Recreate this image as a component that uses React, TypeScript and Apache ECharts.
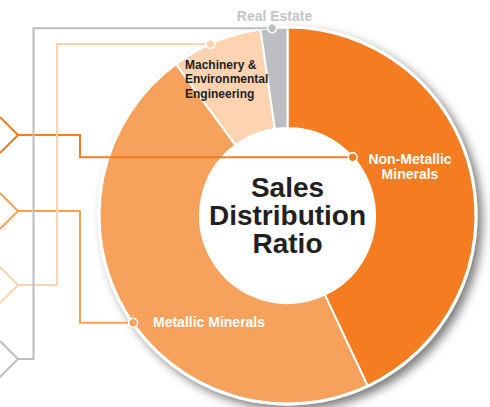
import React, { useEffect, useRef } from "react";
import * as echarts from "echarts";

// ---- data ----
const categories = ["Non-Metallic Minerals", "Metallic Minerals", "Machinery & Environmental Engineering", "Real Estate"];
const shares = [43.0, 46.9, 7.8, 2.3];
const labelTexts = ["Non-Metallic\nMinerals", "Metallic Minerals", "Machinery &\nEnvironmental\nEngineering", "Real Estate"];
const colors = ["#f47d22", "#f6a15c", "#fdd3b1", "#bdbec1"];
const centerTitle = "Sales\nDistribution\nRatio";

// ---- layout ----
const W = 490;
const H = 407;
const CX = 287.5;
const CY = 215.5;
const R_IN = 87.5;
const R_OUT = 188;
const FONT = "'Liberation Sans', Arial, Helvetica, sans-serif";

// marker angle (deg clockwise from 12 o'clock) and radius per category
const markerAngle = [48.2, 235.2, 335.8, 355.3];
const markerRadius = [R_IN, R_OUT, R_OUT, R_OUT];
const routeX = [80, 80, 57, 33.5];
const tipY = [135, 211, 285, 359];
const TIP_X = 18;

function markerPoint(i: number): [number, number] {
  const a = (markerAngle[i] * Math.PI) / 180;
  return [CX + markerRadius[i] * Math.sin(a), CY - markerRadius[i] * Math.cos(a)];
}

export default function App() {
  const ref = useRef<HTMLDivElement>(null);
  useEffect(() => {
    document.body.style.margin = "0";
    if (!ref.current) return;
    const chart = echarts.init(ref.current, undefined, { renderer: "svg" });

    const graphics: any[] = [];
    categories.forEach((_, i) => {
      const [mx, my] = markerPoint(i);
      graphics.push({
        type: "polyline",
        z: 100,
        shape: { points: [[mx, my], [routeX[i], my], [routeX[i], tipY[i]], [TIP_X, tipY[i]]] },
        style: { stroke: colors[i], lineWidth: 2, fill: null },
      });
      graphics.push({
        type: "polyline",
        z: 100,
        shape: { points: [[0, tipY[i] - 18], [TIP_X, tipY[i]], [0, tipY[i] + 18]] },
        style: { stroke: colors[i], lineWidth: 2, fill: null },
      });
      graphics.push({
        type: "circle",
        z: 101,
        shape: { cx: mx, cy: my, r: 4.5 },
        style: { fill: colors[i], stroke: "#ffffff", lineWidth: 1.5 },
      });
    });
    graphics.push({
      type: "text",
      z: 102,
      x: CX,
      y: CY,
      style: {
        text: centerTitle,
        fill: "#231f20",
        font: `bold 28px ${FONT}`,
        lineHeight: 28,
        align: "center",
        verticalAlign: "middle",
      },
    });

    const labelPos: any[] = [
      { x: 410, y: 166, align: "center", verticalAlign: "middle" },
      { x: 153, y: 322, align: "left", verticalAlign: "middle" },
      { x: 185, y: 79, align: "left", verticalAlign: "middle" },
      { x: 274.5, y: 16, align: "center", verticalAlign: "middle" },
    ];
    const labelStyles: any[] = [
      { color: "#ffffff", fontSize: 14, lineHeight: 15 },
      { color: "#ffffff", fontSize: 14, lineHeight: 15 },
      { color: "#231f20", fontSize: 12, lineHeight: 14.5 },
      { color: "#c4c5c7", fontSize: 14, lineHeight: 15 },
    ];

    chart.setOption({
      animation: false,
      graphic: { elements: graphics },
      series: [
        {
          type: "pie",
          silent: true,
          z: 1,
          center: [CX, CY],
          radius: [0, R_OUT + 2],
          label: { show: false },
          labelLine: { show: false },
          data: [{ value: 1, itemStyle: { color: "#ffffff" } }],
          itemStyle: {
            shadowBlur: 10,
            shadowColor: "rgba(0,0,0,0.5)",
            shadowOffsetX: 5,
            shadowOffsetY: 5,
          },
        },
        {
          type: "pie",
          silent: true,
          z: 2,
          center: [CX, CY],
          radius: [R_IN, R_OUT],
          startAngle: 90,
          clockwise: true,
          itemStyle: { borderColor: "#ffffff", borderWidth: 2 },
          labelLine: { show: false },
          label: {
            show: true,
            position: "inside",
            fontFamily: FONT,
            fontWeight: "bold",
            formatter: (p: any) => labelTexts[p.dataIndex],
          },
          labelLayout: (p: any) => labelPos[p.dataIndex],
          data: categories.map((name, i) => ({
            name,
            value: shares[i],
            itemStyle: { color: colors[i] },
            label: labelStyles[i],
          })),
        },
      ],
    });
    return () => chart.dispose();
  }, []);
  return <div ref={ref} style={{ position: "absolute", left: 0, top: 0, width: W, height: H }} />;
}
